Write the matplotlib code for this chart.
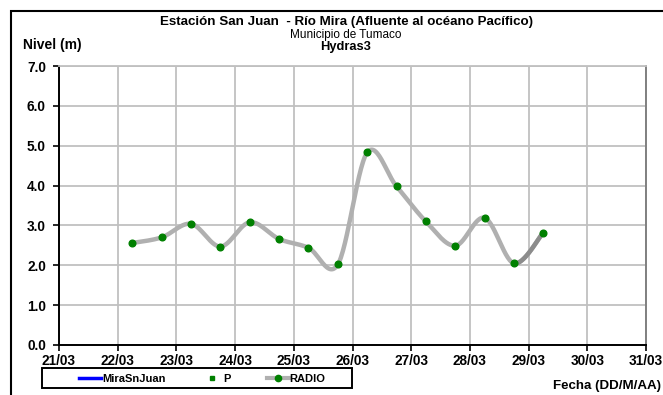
import numpy as np
import matplotlib
matplotlib.use("Agg")
import matplotlib.pyplot as plt
import matplotlib.dates as mdates
from matplotlib.lines import Line2D
from matplotlib.patches import Rectangle
import pandas as pd

plt.rcParams['font.family'] = ['Liberation Sans', 'DejaVu Sans']

# ---- data ----
times = ['2023-03-22 06:00', '2023-03-22 18:00', '2023-03-23 06:00', '2023-03-23 18:00',
         '2023-03-24 06:00', '2023-03-24 18:00', '2023-03-25 06:00', '2023-03-25 18:00',
         '2023-03-26 06:00', '2023-03-26 18:00', '2023-03-27 06:00', '2023-03-27 18:00',
         '2023-03-28 06:00', '2023-03-28 18:00', '2023-03-29 06:00']
radio = [2.56, 2.70, 3.04, 2.47, 3.08, 2.66, 2.44, 2.02, 4.83, 3.98, 3.10, 2.49, 3.19, 2.05, 2.82]
x_start, x_end = '2023-03-21', '2023-03-31'
y_ticks = [0.0, 1.0, 2.0, 3.0, 4.0, 5.0, 6.0, 7.0]
title1 = 'Estación San Juan  - Río Mira (Afluente al océano Pacífico)'
title2 = 'Municipio de Tumaco'
title3 = 'Hydras3'
series_names = ['MiraSnJuan', 'P', 'RADIO']

x = mdates.date2num(pd.to_datetime(times))
y = np.array(radio)


def excel_smooth(xs, ys, n=30):
    xs = np.asarray(xs, float); ys = np.asarray(ys, float)
    px = np.concatenate([[xs[0]], xs, [xs[-1]]])
    py = np.concatenate([[ys[0]], ys, [ys[-1]]])
    ox, oy = [], []
    for i in range(1, len(px) - 2):
        p0 = np.array([px[i], py[i]]); p1 = np.array([px[i + 1], py[i + 1]])
        c1 = p0 + (np.array([px[i + 1], py[i + 1]]) - np.array([px[i - 1], py[i - 1]])) / 6
        c2 = p1 - (np.array([px[i + 2], py[i + 2]]) - np.array([px[i], py[i]])) / 6
        t = np.linspace(0, 1, n)[:, None]
        b = (1 - t) ** 3 * p0 + 3 * (1 - t) ** 2 * t * c1 + 3 * (1 - t) * t ** 2 * c2 + t ** 3 * p1
        ox.append(b[:, 0]); oy.append(b[:, 1])
    return np.concatenate(ox), np.concatenate(oy)


fig = plt.figure(figsize=(6.63, 3.95), dpi=100)
ax = fig.add_axes([59 / 663, 1 - 345 / 395, (646 - 59) / 663, (345 - 66) / 395])

sx, sy = excel_smooth(x, y)
ax.plot(sx, sy, color='#b0b0b0', lw=3.2, solid_capstyle='round', zorder=3)
# last segment appears darker
n = 30
ax.plot(sx[-n:], sy[-n:], color='#8c8c8c', lw=3.2, solid_capstyle='round', zorder=3)
ax.plot(x, y, 'o', color='#008000', ms=4.8, zorder=4)

ax.set_xlim(mdates.date2num(pd.Timestamp(x_start)), mdates.date2num(pd.Timestamp(x_end)))
ax.set_ylim(0, 7)
ax.xaxis.set_major_locator(mdates.DayLocator())
ax.xaxis.set_major_formatter(mdates.DateFormatter('%d/%m'))
ax.set_yticks(y_ticks)
ax.set_yticklabels([f'{v:.1f}' for v in y_ticks])
ax.grid(True, color='#c0c0c0', lw=1.3)
ax.set_axisbelow(True)
for s in ['left', 'bottom']:
    ax.spines[s].set_color('black'); ax.spines[s].set_linewidth(1.4)
ax.spines['right'].set_color('#808080'); ax.spines['right'].set_linewidth(1.4)
ax.spines['top'].set_color('#c0c0c0'); ax.spines['top'].set_linewidth(1.3)
ax.tick_params(axis='both', direction='out', length=4.5, width=1.2, labelsize=9.8)
ax.tick_params(axis='y', pad=5)
ax.tick_params(axis='x', pad=2)
for lab in ax.get_xticklabels() + ax.get_yticklabels():
    lab.set_fontweight('bold')

cx = 346 / 663
fig.text(cx, 1 - 22.5 / 395, title1, ha='center', va='center', fontsize=9.6, fontweight='bold')
fig.text(cx, 1 - 35 / 395, title2, ha='center', va='center', fontsize=8.5)
fig.text(cx, 1 - 47 / 395, title3, ha='center', va='center', fontsize=9.3, fontweight='bold')
fig.text(23 / 663, 1 - 45 / 395, 'Nivel (m)', ha='left', va='center', fontsize=10, fontweight='bold')
fig.text(661 / 663, 1 - 386 / 395, 'Fecha (DD/M/AA)', ha='right', va='center', fontsize=9.6, fontweight='bold')

# outer border
fig.add_artist(Rectangle((11 / 663, -0.2), 1.2, 1.2 - 11 / 395, transform=fig.transFigure,
                         fill=False, ec='black', lw=1.5, clip_on=False))
# legend frame
fig.add_artist(Rectangle((42 / 663, 1 - 388 / 395), (352 - 42) / 663, 20 / 395,
                         transform=fig.transFigure, fill=False, ec='black', lw=1.4))

handles = [Line2D([], [], color='#0000ff', lw=2.5),
           Line2D([], [], ls='none', marker='s', color='#008000', ms=3),
           Line2D([], [], color='#b0b0b0', lw=3, marker='o', mfc='#008000', mec='#008000', ms=4.5)]
leg = fig.legend(handles, series_names, loc='center left',
                 bbox_to_anchor=(79 / 663, 1 - 378.5 / 395),
                 ncol=3, frameon=False, handlelength=2.0, columnspacing=3.2,
                 handletextpad=0.05, borderpad=0, borderaxespad=0,
                 prop={'size': 8, 'weight': 'bold'})

fig.savefig('out.png', dpi=100)
